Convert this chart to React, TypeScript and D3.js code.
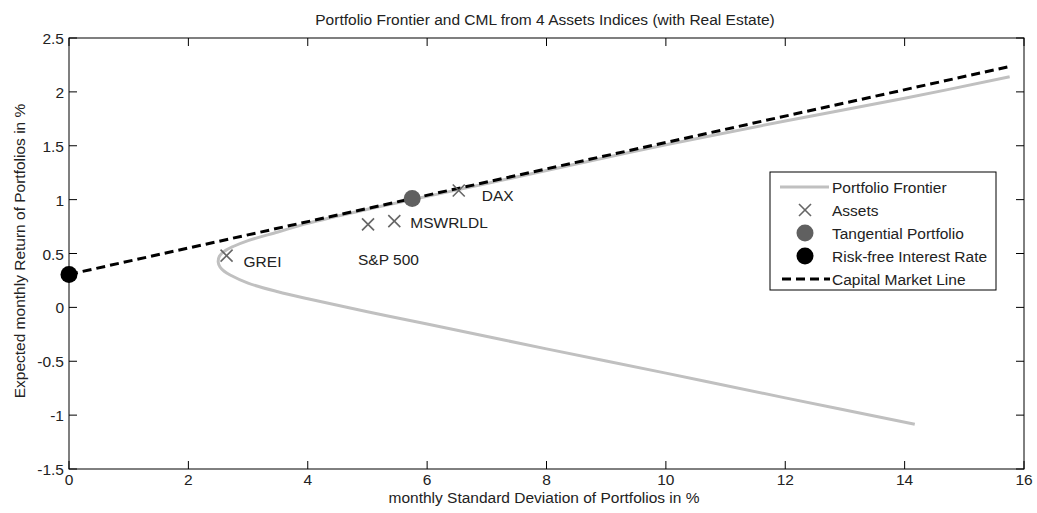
import React from "react";
import * as d3 from "d3";

// Efficient frontier (sigma %, mu %), traced from top of the upper branch down to the lower end
const frontierSigma = [15.76, 14, 12, 10, 8, 7, 6, 5.75, 5, 4, 3.5, 3.0, 2.75, 2.6, 2.52, 2.5, 2.53, 2.6, 2.7, 3.0, 3.5, 4, 5, 6, 8, 10, 12, 14.17];
const frontierMu = [2.14, 1.94, 1.73, 1.51, 1.27, 1.15, 1.03, 1.0, 0.91, 0.78, 0.7, 0.62, 0.565, 0.52, 0.475, 0.42, 0.375, 0.335, 0.3, 0.225, 0.145, 0.08, -0.04, -0.155, -0.385, -0.61, -0.84, -1.085];

// Individual asset indices
const assetNames = ["GREI", "S&P 500", "MSWRLDL", "DAX"];
const assetSigma = [2.64, 5.01, 5.45, 6.53];
const assetMu = [0.48, 0.77, 0.8, 1.085];

// Tangential portfolio and risk-free rate
const tangentSigma = 5.75;
const tangentMu = 1.01;
const riskFreeMu = 0.306;
const cmlEndSigma = 15.76;

const xTicks = [0, 2, 4, 6, 8, 10, 12, 14, 16];
const yTicks = [-1.5, -1, -0.5, 0, 0.5, 1, 1.5, 2, 2.5];

const W = 1037;
const H = 513;
const left = 69;
const right = 1024;
const top = 38;
const bottom = 469;

const font = "'Liberation Sans', Arial, sans-serif";
const fs = 15.5;

export default function App() {
  const x = d3.scaleLinear().domain([0, 16]).range([left, right]);
  const y = d3.scaleLinear().domain([-1.5, 2.5]).range([bottom, top]);

  const frontier = frontierSigma.map((s, i) => [s, frontierMu[i]] as [number, number]);
  const frontierPath = d3
    .line<[number, number]>()
    .x((d) => x(d[0]))
    .y((d) => y(d[1]))
    .curve(d3.curveCatmullRom.alpha(0.5))(frontier);

  const slope = (tangentMu - riskFreeMu) / tangentSigma;
  const cml: [number, number][] = [
    [0, riskFreeMu],
    [cmlEndSigma, riskFreeMu + slope * cmlEndSigma],
  ];
  const cmlPath = d3
    .line<[number, number]>()
    .x((d) => x(d[0]))
    .y((d) => y(d[1]))(cml);

  const labelOffsets: Record<string, [number, number]> = {
    GREI: [17, 11],
    "S&P 500": [-10, 41],
    MSWRLDL: [16, 7],
    DAX: [23, 11],
  };

  const cross = (cx: number, cy: number, r: number, key: string) => (
    <g key={key} stroke="#666" strokeWidth={1.6}>
      <line x1={cx - r} y1={cy - r} x2={cx + r} y2={cy + r} />
      <line x1={cx - r} y1={cy + r} x2={cx + r} y2={cy - r} />
    </g>
  );

  const legendX = 770;
  const legendY = 172;
  const legendRows = [
    "Portfolio Frontier",
    "Assets",
    "Tangential Portfolio",
    "Risk-free Interest Rate",
    "Capital Market Line",
  ];

  return (
    <svg width={W} height={H} style={{ position: "absolute", left: 0, top: 0, background: "#fff" }}>
      <rect x={0} y={0} width={W} height={H} fill="#fff" />
      <defs>
        <clipPath id="plot">
          <rect x={left} y={top} width={right - left} height={bottom - top} />
        </clipPath>
      </defs>

      {/* axes box */}
      <rect x={left} y={top} width={right - left} height={bottom - top} fill="none" stroke="#000" strokeWidth={1} />

      {/* ticks, inward on all four sides */}
      {xTicks.map((t) => (
        <g key={"xt" + t}>
          <line x1={x(t)} x2={x(t)} y1={bottom} y2={bottom - 8} stroke="#000" />
          <line x1={x(t)} x2={x(t)} y1={top} y2={top + 8} stroke="#000" />
          <text x={x(t)} y={485} textAnchor="middle" fontFamily={font} fontSize={fs} fill="#222">
            {t}
          </text>
        </g>
      ))}
      {yTicks.map((t) => (
        <g key={"yt" + t}>
          <line x1={left} x2={left + 8} y1={y(t)} y2={y(t)} stroke="#000" />
          <line x1={right} x2={right - 8} y1={y(t)} y2={y(t)} stroke="#000" />
          <text x={64} y={y(t) + 6} textAnchor="end" fontFamily={font} fontSize={fs} fill="#222">
            {t}
          </text>
        </g>
      ))}

      {/* title and axis labels */}
      <text x={545} y={25} textAnchor="middle" fontFamily={font} fontSize={fs} fill="#222">
        Portfolio Frontier and CML from 4 Assets Indices (with Real Estate)
      </text>
      <text x={544} y={503} textAnchor="middle" fontFamily={font} fontSize={fs} fill="#222">
        monthly Standard Deviation of Portfolios in %
      </text>
      <text
        transform={`translate(25, 251) rotate(-90)`}
        textAnchor="middle"
        fontFamily={font}
        fontSize={fs}
        fill="#222"
      >
        Expected monthly Return of Portfolios in %
      </text>

      <g clipPath="url(#plot)">
        <path d={frontierPath ?? ""} fill="none" stroke="#c0c0c0" strokeWidth={3} />
      </g>
      <path d={cmlPath ?? ""} fill="none" stroke="#000" strokeWidth={3} strokeDasharray="9 5" />

      {/* assets */}
      {assetNames.map((n, i) => {
        const cx = x(assetSigma[i]);
        const cy = y(assetMu[i]);
        const [dx, dy] = labelOffsets[n];
        return (
          <g key={n}>
            {cross(cx, cy, 6, "c" + n)}
            <text x={cx + dx} y={cy + dy} fontFamily={font} fontSize={fs} fill="#222">
              {n}
            </text>
          </g>
        );
      })}

      {/* tangential portfolio and risk-free rate */}
      <circle cx={x(tangentSigma)} cy={y(tangentMu)} r={8.5} fill="#606060" />
      <circle cx={x(0)} cy={y(riskFreeMu)} r={8.5} fill="#000" />

      {/* legend */}
      <rect x={legendX} y={legendY} width={226} height={118} fill="#fff" stroke="#000" strokeWidth={1} />
      {legendRows.map((label, i) => {
        const ry = legendY + 15 + i * 23;
        let marker: React.ReactNode = null;
        if (i === 0) marker = <line x1={780} x2={829} y1={ry} y2={ry} stroke="#c0c0c0" strokeWidth={3} />;
        if (i === 1) marker = cross(805, ry, 6, "lc");
        if (i === 2) marker = <circle cx={805} cy={ry} r={8.5} fill="#606060" />;
        if (i === 3) marker = <circle cx={805} cy={ry} r={8.5} fill="#000" />;
        if (i === 4)
          marker = <line x1={782} x2={830} y1={ry} y2={ry} stroke="#000" strokeWidth={3} strokeDasharray="9 5" />;
        return (
          <g key={label}>
            {marker}
            <text x={832} y={ry + 5.5} fontFamily={font} fontSize={fs} fill="#222">
              {label}
            </text>
          </g>
        );
      })}
    </svg>
  );
}
